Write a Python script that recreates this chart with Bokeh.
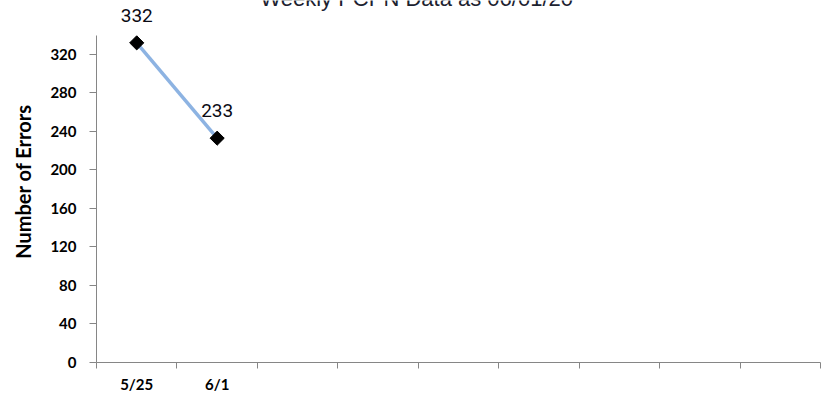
import math
from bokeh.plotting import figure
from bokeh.models import Range1d, FixedTicker, Label, LabelSet, ColumnDataSource
from bokeh.core.properties import value
from bokeh.embed import file_html
from bokeh.resources import INLINE

# ---- data ----
weeks = ["5/25", "6/1"]
errors = [332, 233]
n_slots = 9
y_ticks = [0, 40, 80, 120, 160, 200, 240, 280, 320]
y_axis_max = 340
title_text = "Weekly PCPN Data as 06/01/20"
y_title = "Number of Errors"

xs = [i + 0.5 for i in range(len(weeks))]
src = ColumnDataSource(dict(x=xs, y=errors, lbl=[str(v) for v in errors]))

TICK_FONT = "Lato"
AXIS_GRAY = "#868686"

# the plotting frame reaches the top edge so that the point labels and the
# (cut-off) title above the axis stay visible; the axis itself stops at 340
p = figure(width=829, height=395,
           x_range=Range1d(0, n_slots), y_range=Range1d(0, 376),
           output_backend="svg", toolbar_location=None,
           min_border_left=96, min_border_right=9,
           min_border_top=0, min_border_bottom=32)
p.outline_line_color = None
p.xgrid.grid_line_color = None
p.ygrid.grid_line_color = None
p.background_fill_color = "white"
p.border_fill_color = "white"

# y axis
p.yaxis.bounds = (0, y_axis_max)
p.yaxis.ticker = FixedTicker(ticks=y_ticks)
p.yaxis.axis_line_color = AXIS_GRAY
p.yaxis.major_tick_line_color = AXIS_GRAY
p.yaxis.major_tick_out = 7
p.yaxis.major_tick_in = 0
p.yaxis.minor_tick_line_color = None
p.yaxis.major_label_standoff = 13
p.yaxis.major_label_text_font = TICK_FONT
p.yaxis.major_label_text_font_style = "bold"
p.yaxis.major_label_text_font_size = "15px"
p.yaxis.major_label_text_color = "#000000"
p.yaxis.axis_label = y_title
p.yaxis.axis_label_text_font = TICK_FONT
p.yaxis.axis_label_text_font_style = "bold"
p.yaxis.axis_label_text_font_size = "20px"
p.yaxis.axis_label_text_color = "#000000"
p.yaxis.axis_label_standoff = 12

# x axis: tick marks at slot boundaries, labels at slot centres
p.xaxis.ticker = FixedTicker(ticks=xs, minor_ticks=list(range(n_slots + 1)))
p.xaxis.major_label_overrides = {x: w for x, w in zip(xs, weeks)}
p.xaxis.axis_line_color = AXIS_GRAY
p.xaxis.major_tick_line_color = None
p.xaxis.major_tick_out = 0
p.xaxis.major_tick_in = 0
p.xaxis.minor_tick_line_color = AXIS_GRAY
p.xaxis.minor_tick_out = 6
p.xaxis.minor_tick_in = 0
p.xaxis.major_label_standoff = 6
p.xaxis.major_label_text_font = TICK_FONT
p.xaxis.major_label_text_font_style = "bold"
p.xaxis.major_label_text_font_size = "15px"
p.xaxis.major_label_text_color = "#000000"

# series
p.line("x", "y", source=src, line_color="#8db3e2", line_width=3.5)
p.scatter("x", "y", source=src, marker="square", angle=math.pi / 4,
          size=10, fill_color="black", line_color="black")
p.add_layout(LabelSet(x="x", y="y", text="lbl", source=src, y_offset=21,
                      text_align="center", text_baseline="alphabetic",
                      text_font=value("Roboto"), text_font_size="19px",
                      text_color="#0a0a14"))

# chart title (top edge of the page cuts it, as in the reference)
p.add_layout(Label(x=3.98, y=378, text=title_text,
                   text_align="center", text_baseline="alphabetic",
                   text_font="Liberation Sans", text_font_size="22px",
                   text_color="#1c2230"))

open("out.html", "w").write(file_html(p, INLINE))
